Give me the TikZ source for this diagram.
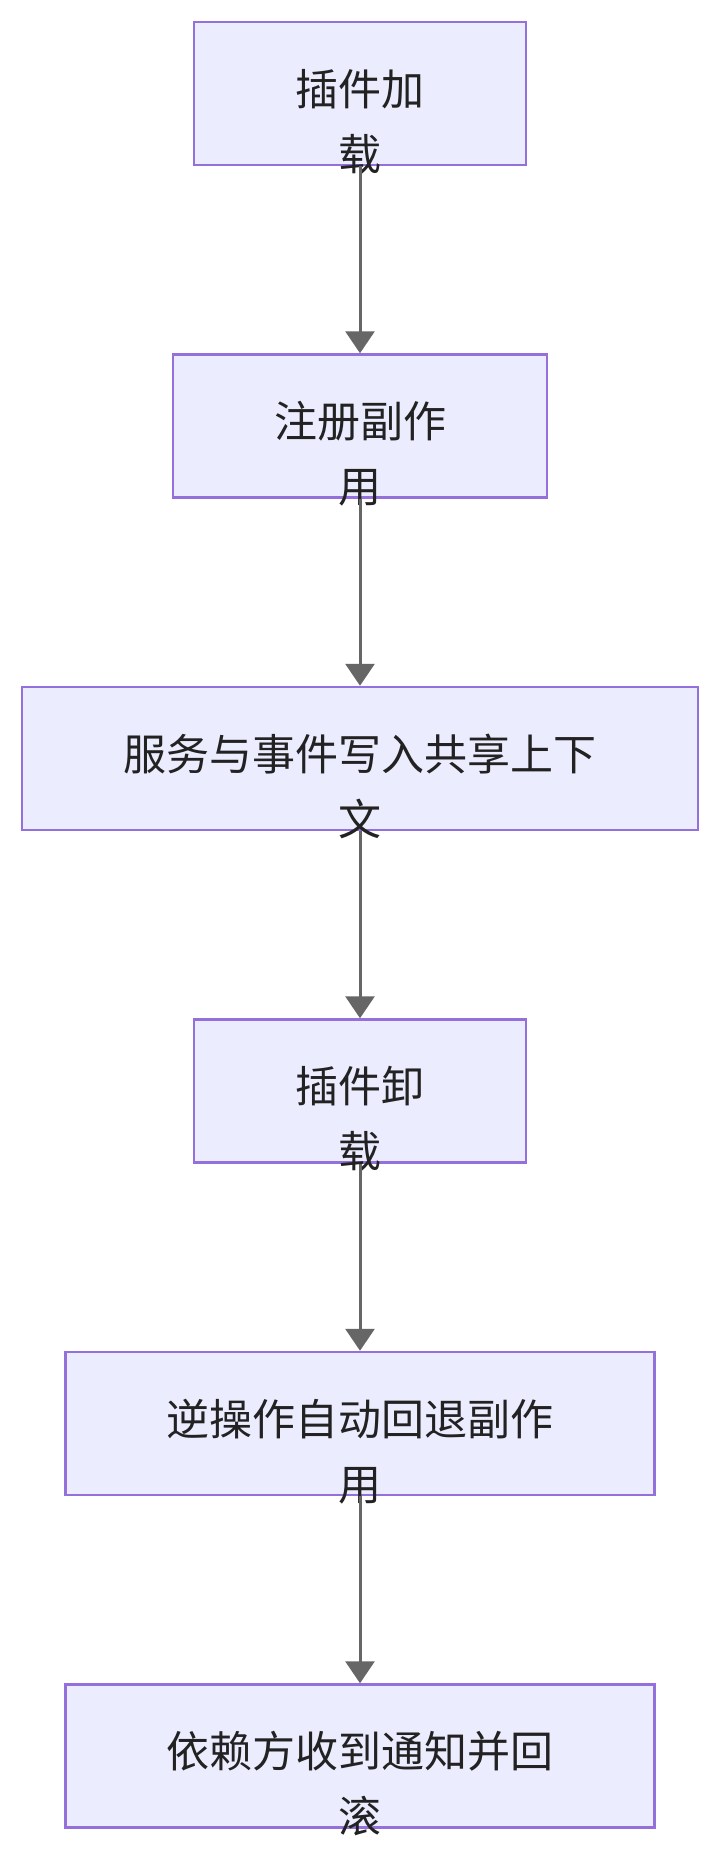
\documentclass[tikz,border=0pt]{standalone}
\usepackage{fontspec}
\newfontfamily\cjk{Noto Sans CJK SC}
\usepackage{tikz}
\usetikzlibrary{positioning, arrows.meta}
\definecolor{boxfill}{HTML}{ECECFF}
\definecolor{boxline}{HTML}{9370DB}
\definecolor{arrowgray}{HTML}{666666}
\definecolor{textcol}{HTML}{222222}

\begin{document}
\begin{tikzpicture}[x=1pt, y=-1pt, box/.style={draw=boxline, fill=boxfill, line width=2.5pt, minimum height=143pt, inner sep=0pt}, txt/.style={font=\cjk\fontsize{43}{65}\selectfont, align=center, text=textcol, inner sep=0pt}, flow/.style={-{Triangle[length=22pt, width=29pt]}, color=arrowgray, line width=3pt}]
    \useasboundingbox[fill=white] (0,0) rectangle (720,1854);

    \node[box, minimum width=332pt] (load) at (360,93.5) {};
    \node[box, minimum width=374pt, below=187pt of load] (reg) {};
    \node[box, minimum width=676pt, below=187pt of reg] (ctx) {};
    \node[box, minimum width=332pt, below=187pt of ctx] (unload) {};
    \node[box, minimum width=589pt, below=187pt of unload] (undo) {};
    \node[box, minimum width=589pt, below=187pt of undo] (notify) {};

    \node[txt, yshift=-28pt] (loadtxt) at (load.center) {插件加\\载};
    \node[txt, yshift=-28pt] (regtxt) at (reg.center) {注册副作\\用};
    \node[txt, yshift=-28pt] (ctxtxt) at (ctx.center) {服务与事件写入共享上下\\文};
    \node[txt, yshift=-28pt] (unloadtxt) at (unload.center) {插件卸\\载};
    \node[txt, yshift=-28pt] (undotxt) at (undo.center) {逆操作自动回退副作\\用};
    \node[txt, yshift=-28pt] (notifytxt) at (notify.center) {依赖方收到通知并回\\滚};

    \path[flow]
        (load) edge (reg)
        (reg) edge (ctx)
        (ctx) edge (unload)
        (unload) edge (undo)
        (undo) edge (notify)
        ;
\end{tikzpicture}
\end{document}
